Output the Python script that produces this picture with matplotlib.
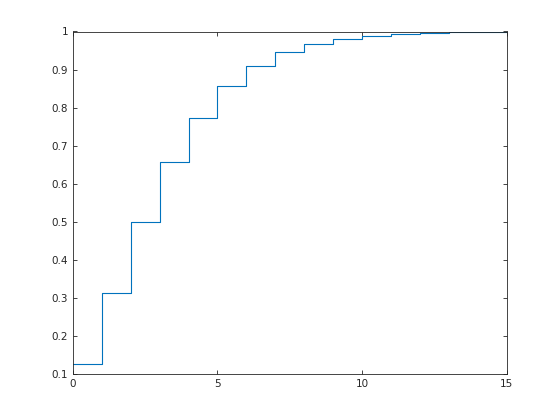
import matplotlib
matplotlib.use("Agg")
import matplotlib.pyplot as plt

# ─── Data (cumulative probabilities) ──────────────────────────────────────────

x_vals = [0, 1, 2, 3, 4, 5, 6, 7, 8, 9, 10, 11, 12, 13, 14, 15, 16, 17, 18, 19, 20]
cdf_vals = [0.125, 0.3125, 0.5, 0.6563, 0.7734, 0.8555, 0.9102, 0.9453, 0.9673,
            0.9807, 0.9888, 0.9935, 0.9963, 0.9979, 0.9988, 0.9994, 0.9996,
            0.9998, 0.9999, 0.9999, 1.0]

x_ticks = [0, 5, 10, 15]
y_ticks = [0.1, 0.2, 0.3, 0.4, 0.5, 0.6, 0.7, 0.8, 0.9, 1]
y_labels = ["0.1", "0.2", "0.3", "0.4", "0.5", "0.6", "0.7", "0.8", "0.9", "1"]

# ─── Plot ─────────────────────────────────────────────────────────────────────

AX_COLOR = "#262626"

fig = plt.figure(figsize=(5.6, 4.2), dpi=100)
ax = fig.add_axes([0.13, 0.11, 0.775, 0.815])

ax.step(x_vals, cdf_vals, where="post", color="#0072BD", linewidth=0.8)

ax.set_xlim(0, 15)
ax.set_ylim(0.1, 1)
ax.set_xticks(x_ticks)
ax.set_xticklabels([str(t) for t in x_ticks])
ax.set_yticks(y_ticks)
ax.set_yticklabels(y_labels)

ax.tick_params(direction="in", length=3, width=0.6, colors=AX_COLOR,
               labelsize=7.5, top=True, right=True, pad=3.5)
for s in ax.spines.values():
    s.set_color(AX_COLOR)
    s.set_linewidth(0.6)

fig.savefig("out.png", dpi=100)
